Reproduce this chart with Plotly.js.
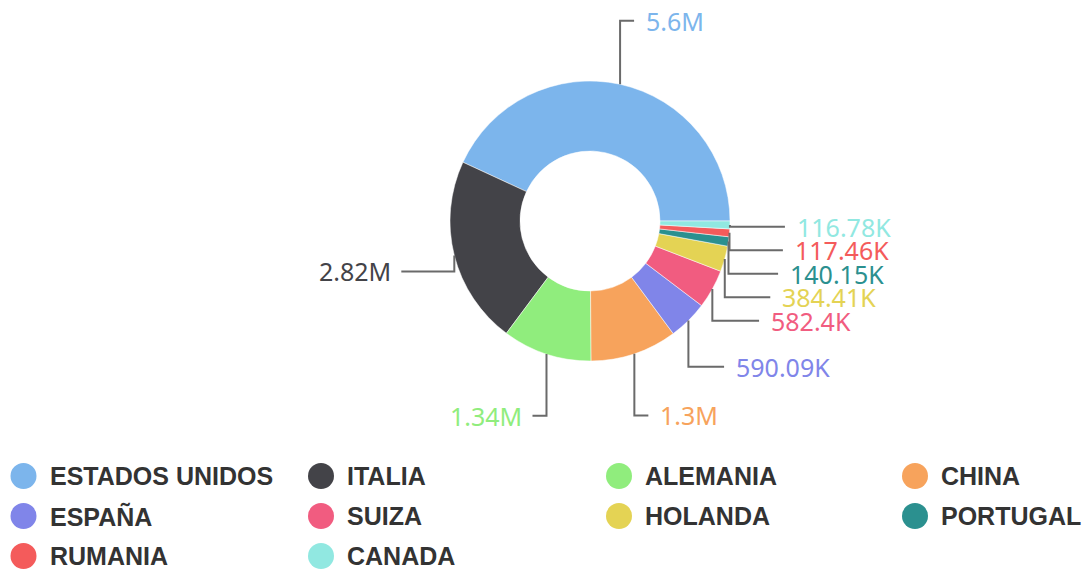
<!DOCTYPE html>
<html>
<head>
<meta charset="utf-8">
<script src="https://cdn.plot.ly/plotly-3.0.1.min.js"></script>
<style>html,body{margin:0;padding:0;background:#fff;}#chart{width:1082px;height:572px;}</style>
</head>
<body>
<div id="chart"></div>
<script>
// ---- data ----
const countries = ['ESTADOS UNIDOS','ITALIA','ALEMANIA','CHINA','ESPAÑA','SUIZA','HOLANDA','PORTUGAL','RUMANIA','CANADA'];
const values = [5600000, 2820000, 1340000, 1300000, 590090, 582400, 384410, 140150, 117460, 116780];
const colors = ['#7cb5ec','#434348','#90ed7d','#f7a35c','#8085e9','#f15c80','#e4d354','#2b908f','#f45b5b','#91e8e1'];

// ---- layout constants (pixels) ----
const W = 1082, H = 572;
const CX = 590, CY = 221, R = 140, LR = 205;
const px = p => p / W;
const py = p => 1 - p / H;

function fmt(v){
  if (v >= 1e6) return parseFloat((v/1e6).toFixed(2)) + 'M';
  return parseFloat((v/1e3).toFixed(2)) + 'K';
}

const total = values.reduce((a,b)=>a+b,0);
// slices start at 3 o'clock, going counterclockwise
let cum = 0;
const items = values.map((v,i)=>{
  const a0 = cum / total * 2*Math.PI;
  cum += v;
  const a1 = cum / total * 2*Math.PI;
  const th = (a0+a1)/2;
  return {i, th, ax: CX + R*Math.cos(th), ay: CY - R*Math.sin(th),
          right: Math.cos(th) >= 0, idealY: CY - LR*Math.sin(th)};
});

// simple collision avoidance per side
const GAP = 23.5;
[true,false].forEach(side=>{
  const grp = items.filter(d=>d.right===side).sort((a,b)=>a.idealY-b.idealY);
  let prev = -1e9;
  grp.forEach(d=>{ d.ly = Math.max(d.idealY, prev + GAP); prev = d.ly; });
});

const shapes = [];
const annotations = [];
items.forEach(d=>{
  const dy = d.ly - CY;
  const dx = Math.max(Math.abs(d.ax - CX) + 14, Math.sqrt(Math.max(0, LR*LR - dy*dy)) - 10);
  const xEnd = d.right ? CX + dx : CX - dx;
  shapes.push({type:'path', xref:'paper', yref:'paper',
    path:`M ${px(d.ax)},${py(d.ay)} L ${px(d.ax)},${py(d.ly)} L ${px(xEnd)},${py(d.ly)}`,
    line:{color:'#6a6a6a', width:2}});
  annotations.push({xref:'paper', yref:'paper', x:px(d.right ? xEnd+10 : xEnd-8), y:py(d.ly),
    xanchor: d.right ? 'left' : 'right', yanchor:'middle', showarrow:false,
    text: fmt(values[d.i]), font:{family:'Noto Sans, sans-serif', size:25, color: colors[d.i]}});
});

// custom legend (4 columns)
const colX = [23.5, 321, 619, 915];
const rowY = [476, 516, 556];
countries.forEach((c,i)=>{
  const cx = colX[i%4], cy = rowY[Math.floor(i/4)], r = 13;
  shapes.push({type:'circle', xref:'paper', yref:'paper',
    x0:px(cx-r), x1:px(cx+r), y0:py(cy+r), y1:py(cy-r),
    fillcolor: colors[i], line:{width:0}});
  annotations.push({xref:'paper', yref:'paper', x:px(cx+24), y:py(cy), xanchor:'left', yanchor:'middle',
    showarrow:false, text:c, font:{family:'Liberation Sans, Arial, sans-serif', size:25, color:'#333333', weight:'bold'}});
});

const trace = {
  type:'pie', labels: countries, values: values, sort:false,
  direction:'counterclockwise', rotation: 90 - 360*values[0]/total, hole:0.5,
  marker:{colors: colors, line:{color:'#ffffff', width:0.5}},
  textinfo:'none', hoverinfo:'label+value',
  domain:{x:[px(CX-R), px(CX+R)], y:[py(CY+R), py(CY-R)]}
};

Plotly.newPlot('chart', [trace], {
  width:W, height:H, margin:{l:0,r:0,t:0,b:0},
  paper_bgcolor:'#ffffff', plot_bgcolor:'#ffffff',
  showlegend:false, shapes, annotations
}, {displayModeBar:false, staticPlot:true});
</script>
</body>
</html>
